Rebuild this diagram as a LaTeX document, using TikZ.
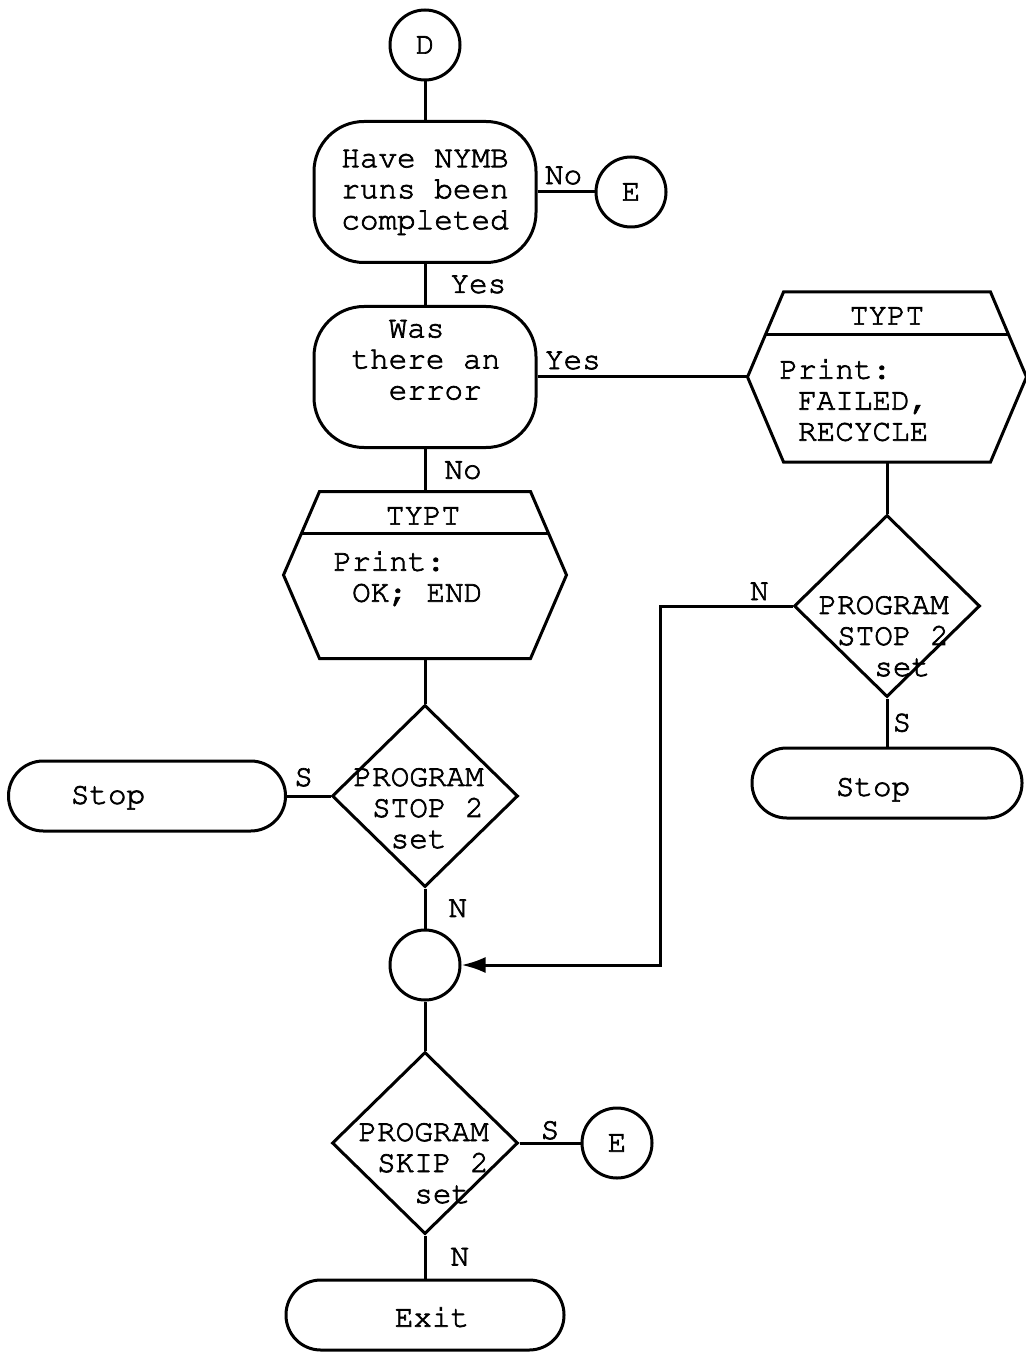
\documentclass[tikz,border=0pt]{standalone}
\usepackage[T1]{fontenc}
\usepackage{tikz}
\usetikzlibrary{arrows.meta, shapes.geometric, positioning, calc}

\newcommand\flowfont{\fontfamily{pcr}\fontsize{15.5}{15.5}\selectfont\special{pdf:literal direct 2 Tr 0.35 w}}

\begin{document}
\begin{tikzpicture}[
    x=0.5pt, y=-0.5pt,
    line width=1.5pt,
    font=\flowfont,
    conn/.style={circle, draw, minimum size=35pt, inner sep=0pt},
    query/.style={draw, rounded corners=25pt, minimum width=111pt, minimum height=70.5pt, align=center},
    term/.style={draw, rounded corners=17.4pt, minimum width=138.5pt, minimum height=35pt},
    test/.style={draw, diamond, minimum width=93pt, minimum height=91pt, inner sep=0pt},
    hexbox/.style={minimum width=140pt, minimum height=82pt, inner sep=0pt},
    txt/.style={align=left, inner sep=0pt, anchor=west},
    lbl/.style={inner sep=1pt},
    flowline/.style={-{Latex[length=12pt, width=8pt]}}
]

\def\xL{425}
\def\xR{887}

\useasboundingbox (0,0) rectangle (1025,1352);

% left column
\node[conn] (D) at (\xL,45) {D};
\node[query] (q1) at (\xL,192) {Have NYMB\\runs been\\completed};
\node[conn] (E1) at (631,192) {E};
\node[query] (q2) at (\xL,377) {};
\node[txt] (q2t) at (350,360) {\hphantom{th}Was\\there an\\\hphantom{th}error};

\node[hexbox] (lhex) at (\xL,575) {};
\node (lhext) at (423,516) {TYPT};
\node[txt] (lhexp) at (332,578) {Print:\\\hphantom{P}OK; END};

\node[test] (d1) at (\xL,796) {};
\node[txt] (d1t) at (352,808) {PROGRAM\\\hphantom{P}STOP 2\\\hphantom{PR}set};
\node[term] (stopL) at (147,796) {};
\node (stopLt) at (108,797) {Stop};

\node[conn] (jn) at (\xL,965) {};
\node[test] (d3) at (\xL,1143) {};
\node[txt] (d3t) at (357,1163) {PROGRAM\\\hphantom{P}SKIP 2\\\hphantom{PRO}set};
\node[conn] (E2) at (617,1143) {E};
\node[term, minimum width=139pt] (exit) at (\xL,1315) {};
\node (exitt) at (432,1317) {Exit};

% right column
\node[hexbox, minimum width=138pt, minimum height=83.5pt] (rhex) at (\xR,377) {};
\node (rhext) at (\xR,316) {TYPT};
\node[txt] (rhexp) at (778,400) {Print:\\\hphantom{P}FAILED,\\\hphantom{P}RECYCLE};

\node[test] (d2) at (\xR,606) {};
\node[txt] (d2t) at (817,636) {PROGRAM\\\hphantom{P}STOP 2\\\hphantom{PRO}set};
\node[term, minimum width=135pt] (stopR) at (\xR,783) {};
\node (stopRt) at (873,789) {Stop};

% TYPT outlines
\foreach \h in {lhex, rhex} {
  \draw ([xshift=18pt]\h.north west) -- ([xshift=-18pt]\h.north east) -- (\h.east)
     -- ([xshift=-18pt]\h.south east) -- ([xshift=18pt]\h.south west) -- (\h.west) -- cycle;
  \draw ($([xshift=18pt]\h.north west)!0.5!(\h.west)$) -- ($([xshift=-18pt]\h.north east)!0.5!(\h.east)$);
}

% connectors
\draw (D) -- (q1);
\draw (q1.east) -- node[lbl, pos=0, anchor=south west, inner sep=3pt]{No} (E1.west);
\draw (q1.south) -- node[lbl, right=11pt]{Yes} (q2.north);
\draw (q2.east) -- node[lbl, pos=0, anchor=south west, inner sep=3pt]{Yes} (rhex.west);
\draw (q2.south) -- node[lbl, right=8pt]{No} (lhex.north);
\draw (lhex.south) -- (d1.north);
\draw (d1.west) -- node[lbl, pos=0.62, above=3pt]{S} (stopL.east);
\draw (d1.south) -- node[lbl, right=10pt]{N} (jn.north);
\draw (rhex.south) -- (d2.north);
\draw (d2.south) -- node[lbl, right=1pt]{S} (stopR.north);
\coordinate (turn) at (660,965);
\draw[flowline] (d2.west) -| node[lbl, pos=0.125, above=1pt]{N} (turn) -- (jn.east);
\draw (jn.south) -- (d3.north);
\draw (d3.east) -- node[lbl, above]{S} (E2.west);
\draw (d3.south) -- node[lbl, right=11pt]{N} (exit.north);

\end{tikzpicture}
\end{document}
